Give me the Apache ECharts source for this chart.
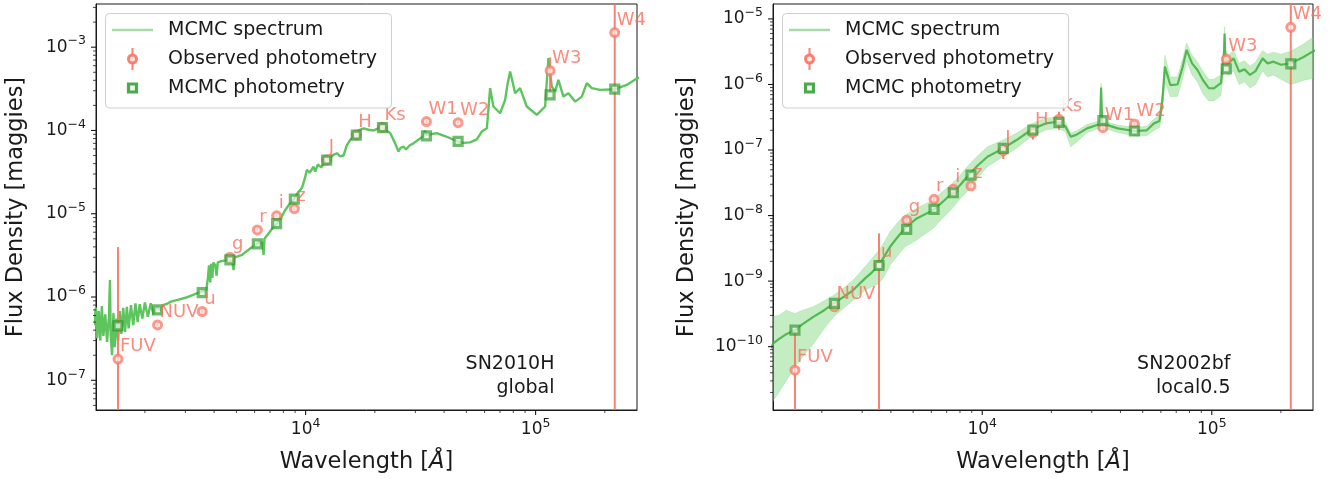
<!DOCTYPE html>
<html>
<head>
<meta charset="utf-8">
<title>SED fits</title>
<script src="https://cdn.jsdelivr.net/npm/echarts@6/dist/echarts.min.js"></script>
<style>
  html, body { margin: 0; padding: 0; background: #fff; }
  #chart { width: 1333px; height: 479px; }
</style>
</head>
<body>
<div id="chart"></div>
<script>
// ---------------- data ----------------
const BANDS = ["FUV", "NUV", "u", "g", "r", "i", "z", "J", "H", "Ks", "W1", "W2", "W3", "W4"];
const BAND_WAVE = [1528, 2271, 3551, 4686, 6166, 7480, 8932, 12350, 16620, 21590, 33526, 46028, 115608, 220883];

// SN2010H / global
const OBS_L = [1.8e-7, 4.63e-7, 6.7e-7, 3.01e-6, 6.4e-6, 9.45e-6, 1.15e-5, 4.43e-5, 8.85e-5, 1.09e-4, 1.28e-4, 1.24e-4, 5.23e-4, 1.5e-3];
const OBS_ERR_L = [3.8e-6, 3e-8, 4e-8, 2e-7, 3e-7, 4e-7, 6e-7, 2e-6, 4e-6, 5e-6, 5e-6, 6e-6, 2.3e-4, 4e-3];
const MOD_L = [4.5e-7, 7.0e-7, 1.13e-6, 2.8e-6, 4.35e-6, 7.6e-6, 1.5e-5, 4.4e-5, 8.8e-5, 1.08e-4, 8.6e-5, 7.4e-5, 2.67e-4, 3.13e-4];

const SPEC_WAVE_L = [
  1200, 1225, 1240, 1260, 1280, 1300, 1320, 1345, 1370, 1395, 1410, 1420, 1440, 1460, 1480, 1505,
  1530, 1555, 1580, 1610, 1640, 1670, 1700, 1740, 1780, 1820, 1860, 1900, 1950, 2000, 2060, 2120,
  2180, 2250, 2330, 2400, 2500, 2600, 2800, 3000, 3200, 3400, 3600, 3700, 3760, 3800, 3850, 3880,
  3930, 3970, 4050, 4100, 4150, 4300, 4500, 4650, 4800, 4860, 4900, 5100, 5300, 5500, 5800, 6100,
  6300, 6500, 6563, 6620, 6900, 7200, 7500, 7800, 8150, 8500, 8850, 9200, 9640, 9900, 10130, 10400,
  10820, 11000, 11300, 11700, 12350, 12800, 13200, 13677, 14100, 14609, 15100, 15630, 16430, 17000, 17850, 18800,
  19724, 20600, 21460, 22400, 23320, 24510, 25330, 25900, 26650, 27300, 28300, 29440, 31000, 32500, 33000, 33420,
  35000, 37200, 41100, 45720, 48500, 51920, 55530, 58340, 61380, 63420, 65540, 70110, 73700, 75500, 77480, 79500,
  81450, 85600, 91550, 101200, 110000, 113700, 117600, 121600, 125600, 132100, 138900, 148500, 158800, 166900, 175500, 190700,
  221600, 249000, 275400, 300000
];
const SPEC_FLUX_L = [
  4.6e-7, 7.5e-7, 3.2e-7, 6.8e-7, 3.0e-7, 7.8e-7, 3.4e-7, 6.2e-7, 2.9e-7, 5.8e-7, 1.6e-6, 3.5e-7, 2.0e-7, 6.4e-7, 2.5e-7, 5.5e-7,
  3.0e-7, 6.8e-7, 3.6e-7, 7.4e-7, 3.8e-7, 7.6e-7, 4.2e-7, 8.0e-7, 4.6e-7, 8.4e-7, 5.0e-7, 8.2e-7, 5.5e-7, 8.6e-7, 5.8e-7, 8.4e-7,
  6.2e-7, 7.6e-7, 7.0e-7, 8.0e-7, 8.3e-7, 8.8e-7, 9.3e-7, 9.8e-7, 1.05e-6, 1.12e-6, 1.18e-6, 1.22e-6, 1.7e-6, 2.4e-6, 1.5e-6, 2.5e-6,
  1.7e-6, 2.6e-6, 2.4e-6, 1.8e-6, 2.6e-6, 2.7e-6, 2.75e-6, 2.85e-6, 2.7e-6, 2.1e-6, 3.0e-6, 3.1e-6, 3.2e-6, 3.5e-6, 3.9e-6, 4.3e-6,
  4.6e-6, 4.4e-6, 3.2e-6, 5.0e-6, 5.8e-6, 6.8e-6, 7.6e-6, 8.8e-6, 1.11e-5, 1.3e-5, 1.47e-5, 1.75e-5, 2.05e-5, 2.6e-5, 3.37e-5, 3.1e-5,
  3.69e-5, 3.2e-5, 3.9e-5, 3.6e-5, 4.43e-5, 4.7e-5, 5.1e-5, 5.33e-5, 4.9e-5, 5.0e-5, 6.6e-5, 7.7e-5, 8.85e-5, 1.0e-4, 1.06e-4, 1.02e-4,
  1.0e-4, 1.05e-4, 1.09e-4, 1.0e-4, 9.3e-5, 7.0e-5, 5.6e-5, 6.2e-5, 6.4e-5, 5.9e-5, 6.6e-5, 7.0e-5, 7.8e-5, 8.5e-5, 1.0e-4, 8.85e-5,
  9.0e-5, 9.3e-5, 8.4e-5, 7.4e-5, 7.1e-5, 7.2e-5, 7.8e-5, 9.7e-5, 1.06e-4, 3.22e-4, 1.94e-4, 1.61e-4, 2.33e-4, 3.6e-4, 5.1e-4, 3.8e-4,
  2.8e-4, 3.22e-4, 1.94e-4, 1.54e-4, 1.94e-4, 7.4e-4, 3.37e-4, 2.93e-4, 4.05e-4, 2.55e-4, 2.8e-4, 2.22e-4, 2.55e-4, 3.7e-4, 3.22e-4, 3.07e-4,
  3.13e-4, 3.52e-4, 4.2e-4, 4.6e-4
];

// SN2002bf / local0.5
const OBS_R = [4.37e-11, 4.05e-10, 1.75e-9, 8.5e-9, 1.77e-8, 2.51e-8, 2.85e-8, 9.8e-8, 1.84e-7, 2.94e-7, 2.19e-7, 2.5e-7, 2.42e-6, 7.46e-6];
const OBS_ERR_R = [1.3e-10, 2e-11, 3.6e-9, 8e-10, 1.5e-9, 2e-9, 2.5e-9, 2.5e-8, 4e-8, 9e-8, 2e-8, 3e-8, 3e-7, 1.2e-5];
const MOD_R = [1.79e-10, 4.56e-10, 1.73e-9, 6.15e-9, 1.24e-8, 2.23e-8, 4.15e-8, 1.06e-7, 2.02e-7, 2.65e-7, 2.8e-7, 1.95e-7, 1.73e-6, 2.06e-6];

const SPEC_WAVE_R = [
  1200, 1229, 1300, 1400, 1528, 1650, 1837, 2050, 2253, 2500, 2742, 3088, 3300, 3551, 3750, 3967,
  4300, 4608, 5183, 6115, 6700, 7410, 8000, 8730, 9600, 10540, 12330, 14100, 16300, 18850, 21400, 23000,
  24300, 25660, 28620, 32600, 32950, 33300, 38960, 45870, 52100, 56010, 59160, 61000, 62480, 65970, 70930, 74500,
  77670, 82010, 86600, 91450, 97000, 102000, 109600, 113000, 113700, 114500, 117900, 124500, 131500, 138900, 146700, 155000,
  166500, 175000, 185700, 200000, 221000, 250000, 274800, 300000
];
const SPEC_MED_R = [
  9.5e-11, 1.12e-10, 1.3e-10, 1.55e-10, 1.79e-10, 2.2e-10, 2.85e-10, 3.6e-10, 4.56e-10, 5.8e-10, 7.3e-10, 1.1e-9, 1.35e-9, 1.75e-9, 2.4e-9, 3.34e-9,
  4.8e-9, 6.4e-9, 9.05e-9, 1.21e-8, 1.6e-8, 2.23e-8, 2.9e-8, 4.15e-8, 5.9e-8, 7.9e-8, 1.06e-7, 1.42e-7, 2.02e-7, 2.55e-7, 2.7e-7, 2.3e-7,
  1.6e-7, 1.7e-7, 2.14e-7, 2.5e-7, 9.0e-7, 2.55e-7, 2.14e-7, 1.95e-7, 2.0e-7, 2.55e-7, 2.77e-7, 6.0e-7, 1.87e-6, 9.8e-7, 1.0e-6, 1.8e-6,
  3.37e-6, 2.1e-6, 1.66e-6, 1.17e-6, 8.8e-7, 8.7e-7, 1.05e-6, 3.0e-6, 6.0e-6, 2.6e-6, 2.1e-6, 2.5e-6, 1.57e-6, 1.7e-6, 1.4e-6, 1.6e-6,
  2.5e-6, 2.1e-6, 2.23e-6, 2.0e-6, 2.1e-6, 2.6e-6, 3.17e-6, 3.6e-6
];
const SPEC_HI_R = [
  2.6e-10, 2.9e-10, 3.0e-10, 3.6e-10, 3.2e-10, 3.6e-10, 4.06e-10, 5.0e-10, 6.1e-10, 8.0e-10, 1.04e-9, 1.66e-9, 2.2e-9, 2.97e-9, 4.0e-9, 5.66e-9,
  8.0e-9, 1.02e-8, 1.29e-8, 1.73e-8, 2.3e-8, 3.1e-8, 4.1e-8, 5.9e-8, 8.3e-8, 1.12e-7, 1.42e-7, 1.8e-7, 2.5e-7, 3.05e-7, 3.2e-7, 2.7e-7,
  1.8e-7, 1.95e-7, 2.45e-7, 2.8e-7, 1.05e-6, 2.8e-7, 2.4e-7, 2.2e-7, 2.3e-7, 3.0e-7, 3.4e-7, 8.0e-7, 2.8e-6, 1.3e-6, 1.3e-6, 2.4e-6,
  4.3e-6, 2.8e-6, 2.2e-6, 1.6e-6, 1.2e-6, 1.2e-6, 1.4e-6, 3.9e-6, 7.6e-6, 3.4e-6, 2.8e-6, 3.3e-6, 2.1e-6, 2.3e-6, 1.9e-6, 2.2e-6,
  3.3e-6, 2.9e-6, 3.1e-6, 2.9e-6, 3.2e-6, 4.1e-6, 5.2e-6, 6.0e-6
];
const SPEC_LO_R = [
  1.3e-11, 1.5e-11, 2.0e-11, 3.0e-11, 4.9e-11, 7e-11, 1.1e-10, 1.9e-10, 2.85e-10, 3.9e-10, 5.1e-10, 7.3e-10, 8.2e-10, 9.2e-10, 1.2e-9, 1.75e-9,
  2.5e-9, 3.34e-9, 4.23e-9, 6.4e-9, 9e-9, 1.29e-8, 1.8e-8, 2.45e-8, 3.8e-8, 5.6e-8, 7.9e-8, 1.06e-7, 1.6e-7, 2.02e-7, 2.14e-7, 1.9e-7,
  1.12e-7, 1.3e-7, 1.85e-7, 2.15e-7, 6e-7, 2.2e-7, 1.85e-7, 1.65e-7, 1.65e-7, 2.0e-7, 2.2e-7, 4.2e-7, 1.1e-6, 6.5e-7, 6.6e-7, 1.2e-6,
  2.3e-6, 1.4e-6, 1.1e-6, 7.2e-7, 5.6e-7, 5.6e-7, 6.8e-7, 1.8e-6, 3.4e-6, 1.6e-6, 1.4e-6, 1.6e-6, 1.0e-6, 1.1e-6, 8.8e-7, 1.0e-6,
  1.6e-6, 1.3e-6, 1.4e-6, 1.2e-6, 1.0e-6, 1.15e-6, 1.25e-6, 1.35e-6
];

// axes
const X_RANGE = [1226, 276000];
const Y_RANGE_L = [4.4e-8, 3.3e-3];
const Y_RANGE_R = [1.08e-11, 1.69e-5];
const X_MAJOR = [1e4, 1e5];
const Y_MAJOR_L = [1e-7, 1e-6, 1e-5, 1e-4, 1e-3];
const Y_MAJOR_R = [1e-10, 1e-9, 1e-8, 1e-7, 1e-6, 1e-5];
const X_DECADES = [1e3, 1e4, 1e5];
const Y_DECADES_L = [1e-8, 1e-7, 1e-6, 1e-5, 1e-4, 1e-3];
const Y_DECADES_R = [1e-11, 1e-10, 1e-9, 1e-8, 1e-7, 1e-6, 1e-5];
const MINOR_MULT = [2, 3, 4, 5, 6, 7, 8, 9];

const PANELS = [
  { name: "SN2010H\nglobal", left: 96, width: 541, yRange: Y_RANGE_L, yMajor: Y_MAJOR_L, yDecades: Y_DECADES_L,
    obs: OBS_L, err: OBS_ERR_L, mod: MOD_L, nameGap: 68 },
  { name: "SN2002bf\nlocal0.5", left: 773, width: 540, yRange: Y_RANGE_R, yMajor: Y_MAJOR_R, yDecades: Y_DECADES_R,
    obs: OBS_R, err: OBS_ERR_R, mod: MOD_R, nameGap: 74 },
];

// ---------------- style ----------------
const FONT = "DejaVu Sans";
const INK = "#1a1a1a";
const SALMON = "rgba(248,118,102,0.92)";
const SALMON_TXT = "#f76f5e";
const GREEN_SQ = "rgba(40,150,40,0.82)";
const TOP = 4, HEIGHT = 406;

function powLabel(v) {
  const e = Math.log10(v);
  const r = Math.round(e);
  if (Math.abs(e - r) > 1e-6) return "";
  return "{b|10}{s|" + (r < 0 ? "\u2212" + (-r) : r) + "}";
}
const LABEL_RICH = {
  b: { fontSize: 17, fontFamily: FONT, color: INK, lineHeight: 24, verticalAlign: "middle" },
  s: { fontSize: 12.5, fontFamily: FONT, color: INK, lineHeight: 12, padding: [0, 0, 12, 0], verticalAlign: "middle" },
};

function minorTicks(decades, range) {
  const out = [];
  decades.forEach(d => MINOR_MULT.forEach(m => {
    const v = d * m;
    if (v > range[0] && v < range[1]) out.push(v);
  }));
  return out;
}

function renderTick(params, api) {
  const cs = params.coordSys;
  const kind = api.value(2);
  const p = api.coord([api.value(0), api.value(1)]);
  const major = kind % 2 === 0;
  const len = major ? 5 : 3;
  const lw = major ? 1.1 : 0.8;
  if (kind < 2) {
    if (p[0] < cs.x - 0.5 || p[0] > cs.x + cs.width + 0.5) return null;
    const y0 = cs.y + cs.height;
    return { type: "line", shape: { x1: p[0], y1: y0, x2: p[0], y2: y0 + len }, style: { stroke: INK, lineWidth: lw } };
  }
  if (p[1] < cs.y - 0.5 || p[1] > cs.y + cs.height + 0.5) return null;
  return { type: "line", shape: { x1: cs.x, y1: p[1], x2: cs.x - len, y2: p[1] }, style: { stroke: INK, lineWidth: lw } };
}

// vertical error bar; a lower bound at or below zero runs to the bottom of the frame
function renderErr(params, api) {
  const cs = params.coordSys;
  const x = api.value(0), f = api.value(1), e = api.value(2);
  const p1 = api.coord([x, f + e]);
  const top = Math.max(cs.y, p1[1]);
  let bot = cs.y + cs.height;
  if (f - e > 0) bot = Math.min(bot, api.coord([x, f - e])[1]);
  return { type: "line", shape: { x1: p1[0], y1: top, x2: p1[0], y2: bot }, style: { stroke: SALMON, lineWidth: 2 } };
}

function renderBand(params, api) {
  const cs = params.coordSys;
  const pts = [];
  for (let i = 0; i < SPEC_WAVE_R.length; i++) pts.push(api.coord([SPEC_WAVE_R[i], SPEC_HI_R[i]]));
  for (let i = SPEC_WAVE_R.length - 1; i >= 0; i--) pts.push(api.coord([SPEC_WAVE_R[i], SPEC_LO_R[i]]));
  return {
    type: "polygon",
    shape: { points: pts },
    style: { fill: "rgba(125,215,125,0.45)", stroke: "rgba(125,215,125,0.3)", lineWidth: 1 },
    clipPath: { type: "rect", shape: { x: cs.x, y: cs.y, width: cs.width, height: cs.height } },
  };
}

const grid = [], xAxis = [], yAxis = [], series = [], graphic = [];

PANELS.forEach((P, gi) => {
  grid.push({ left: P.left, top: TOP, width: P.width, height: HEIGHT, show: true,
              borderColor: INK, borderWidth: 1, backgroundColor: "#fff" });
  xAxis.push({
    type: "log", gridIndex: gi, min: X_RANGE[0], max: X_RANGE[1],
    name: "Wavelength [{i|Å}]", nameLocation: "middle", nameGap: 41,
    nameTextStyle: { fontSize: 22.5, fontFamily: FONT, color: INK, rich: { i: { fontSize: 22.5, fontFamily: FONT, fontStyle: "italic", color: INK } } },
    axisLine: { show: true, lineStyle: { color: INK, width: 1 } },
    axisTick: { show: false }, splitLine: { show: false }, minorTick: { show: false },
    axisLabel: { formatter: powLabel, rich: LABEL_RICH, margin: 8, showMinLabel: true, showMaxLabel: true },
  });
  yAxis.push({
    type: "log", gridIndex: gi, min: P.yRange[0], max: P.yRange[1],
    name: "Flux Density [maggies]", nameLocation: "middle", nameGap: P.nameGap, nameRotate: 90,
    nameTextStyle: { fontSize: 22.5, fontFamily: FONT, color: INK },
    axisLine: { show: true, lineStyle: { color: INK, width: 1 } },
    axisTick: { show: false }, splitLine: { show: false }, minorTick: { show: false },
    axisLabel: { formatter: powLabel, rich: LABEL_RICH, margin: 10, align: "right" },
  });

  // spectrum
  if (gi === 0) {
    series.push({
      name: "MCMC spectrum", type: "line", xAxisIndex: gi, yAxisIndex: gi, z: 2,
      data: SPEC_WAVE_L.map((w, i) => [w, SPEC_FLUX_L[i]]),
      symbol: "none", showSymbol: false, clip: true, animation: false,
      lineStyle: { color: "#5ec45e", width: 2.4 },
    });
  } else {
    series.push({
      name: "MCMC spectrum band", type: "custom", xAxisIndex: gi, yAxisIndex: gi, z: 1, clip: true, silent: true,
      data: [[SPEC_WAVE_R[0], SPEC_MED_R[0]]], renderItem: renderBand,
    });
    series.push({
      name: "MCMC spectrum", type: "line", xAxisIndex: gi, yAxisIndex: gi, z: 2,
      data: SPEC_WAVE_R.map((w, i) => [w, SPEC_MED_R[i]]),
      symbol: "none", showSymbol: false, clip: true, animation: false,
      lineStyle: { color: "rgba(70,178,70,0.9)", width: 2.2 },
    });
  }

  // error bars
  series.push({
    name: "Observed errors", type: "custom", xAxisIndex: gi, yAxisIndex: gi, z: 3, silent: true,
    data: BAND_WAVE.map((w, i) => [w, P.obs[i], P.err[i]]), renderItem: renderErr,
  });
  // observed photometry
  series.push({
    name: "Observed photometry", type: "scatter", xAxisIndex: gi, yAxisIndex: gi, z: 4,
    symbol: "circle", symbolSize: 8,
    itemStyle: { color: "rgba(255,232,228,0.95)", borderColor: SALMON, borderWidth: 3 },
    data: BAND_WAVE.map((w, i) => ({ name: BANDS[i], value: [w, P.obs[i]] })),
  });
  // model photometry
  series.push({
    name: "MCMC photometry", type: "scatter", xAxisIndex: gi, yAxisIndex: gi, z: 5,
    symbol: "rect", symbolSize: 8,
    itemStyle: { color: "rgba(232,246,232,0.9)", borderColor: GREEN_SQ, borderWidth: 3.2 },
    data: BAND_WAVE.map((w, i) => [w, P.mod[i]]),
  });
  // band names
  series.push({
    name: "Band labels", type: "scatter", xAxisIndex: gi, yAxisIndex: gi, z: 6, silent: true,
    symbolSize: 1, itemStyle: { color: "rgba(0,0,0,0)" },
    label: { show: true, formatter: "{b}", position: [2.5, -3], align: "left", verticalAlign: "bottom",
             color: SALMON_TXT, fontSize: 18, fontFamily: FONT },
    data: BAND_WAVE.map((w, i) => ({ name: BANDS[i], value: [w, P.obs[i]] })),
  });
  // ticks
  const yRef = P.yRange[0] * 2, xRef = X_RANGE[0] * 2;
  const tickData = []
    .concat(X_MAJOR.map(v => [v, yRef, 0]))
    .concat(minorTicks(X_DECADES, X_RANGE).map(v => [v, yRef, 1]))
    .concat(P.yMajor.map(v => [xRef, v, 2]))
    .concat(minorTicks(P.yDecades, P.yRange).map(v => [xRef, v, 3]));
  series.push({
    name: "Ticks", type: "custom", xAxisIndex: gi, yAxisIndex: gi, z: 7, silent: true,
    data: tickData, renderItem: renderTick,
  });

  // legend box
  const dx = P.left - 96;
  graphic.push(
    { type: "rect", z: 100, shape: { x: 105.5 + dx, y: 13.5, width: 286, height: 94.5, r: 4 },
      style: { fill: "rgba(255,255,255,0.85)", stroke: "#cfcfcf", lineWidth: 1 } },
    { type: "line", z: 101, shape: { x1: 112 + dx, y1: 30, x2: 153 + dx, y2: 30 },
      style: { stroke: "#a6daa6", lineWidth: 2.5 } },
    { type: "line", z: 101, shape: { x1: 132.5 + dx, y1: 48, x2: 132.5 + dx, y2: 70 },
      style: { stroke: SALMON, lineWidth: 2 } },
    { type: "circle", z: 102, shape: { cx: 132.5 + dx, cy: 59, r: 4 },
      style: { fill: "rgba(255,232,228,0.95)", stroke: SALMON, lineWidth: 3 } },
    { type: "rect", z: 102, shape: { x: 128.5 + dx, y: 84, width: 8, height: 8 },
      style: { fill: "rgba(232,246,232,0.9)", stroke: GREEN_SQ, lineWidth: 3.2 } },
    { type: "text", z: 103, x: 168 + dx, y: 30,
      style: { text: "MCMC spectrum", fontSize: 19, fontFamily: FONT, fill: INK, verticalAlign: "middle" } },
    { type: "text", z: 103, x: 168 + dx, y: 59,
      style: { text: "Observed photometry", fontSize: 19, fontFamily: FONT, fill: INK, verticalAlign: "middle" } },
    { type: "text", z: 103, x: 168 + dx, y: 88,
      style: { text: "MCMC photometry", fontSize: 19, fontFamily: FONT, fill: INK, verticalAlign: "middle" } },
    { type: "text", z: 103, x: P.left + P.width - 82.5, y: 400,
      style: { text: P.name, fontSize: 19, lineHeight: 24, fontFamily: FONT, fill: INK, align: "right", verticalAlign: "bottom" } }
  );
});

const chart = echarts.init(document.getElementById("chart"), null, { renderer: "canvas" });
chart.setOption({
  animation: false,
  backgroundColor: "#fff",
  textStyle: { fontFamily: FONT },
  grid, xAxis, yAxis, series, graphic,
});
</script>
</body>
</html>
